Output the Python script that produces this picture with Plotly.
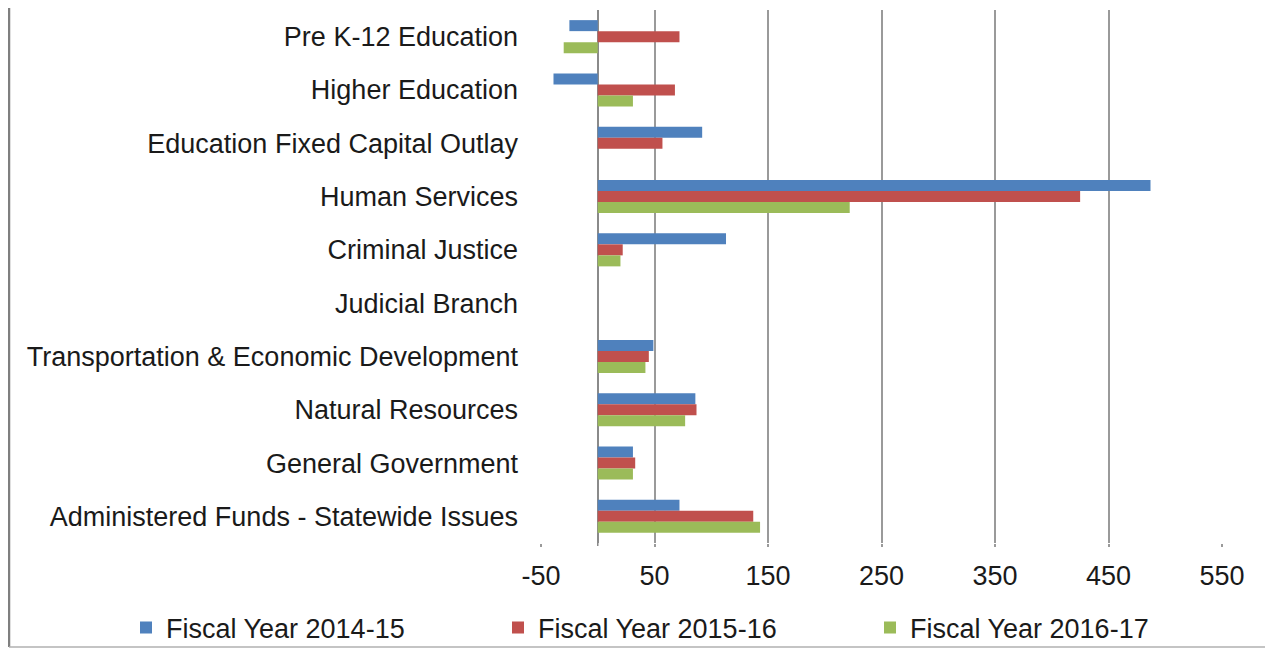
import plotly.graph_objects as go

categories = [
    "Pre K-12 Education",
    "Higher Education",
    "Education Fixed Capital Outlay",
    "Human Services",
    "Criminal Justice",
    "Judicial Branch",
    "Transportation & Economic Development",
    "Natural Resources",
    "General Government",
    "Administered Funds - Statewide Issues",
]
series_names = ["Fiscal Year 2014-15", "Fiscal Year 2015-16", "Fiscal Year 2016-17"]
fy_2014_15 = [-25, -39, 92, 487, 113, 0, 49, 86, 31, 72]
fy_2015_16 = [72, 68, 57, 425, 22, 0, 45, 87, 33, 137]
fy_2016_17 = [-30, 31, 0, 222, 20, 0, 42, 77, 31, 143]
colors = ["#4F81BD", "#C0504D", "#9BBB59"]
tick_values = [-50, 50, 150, 250, 350, 450, 550]

fig = go.Figure()
for name, vals, col in zip(series_names, [fy_2014_15, fy_2015_16, fy_2016_17], colors):
    fig.add_trace(go.Bar(
        y=categories, x=vals, name=name, orientation="h",
        marker=dict(color=col, line=dict(width=0)),
    ))

# page body has an 8px margin, so the figure is laid out 8px in from the window edge
OFF = 8
W, H = 1273 - OFF, 648 - OFF
L, R, T, B = 541 - OFF, W - (1222 - OFF), 10 - OFF, H - (543 - OFF)
PW, PH = W - L - R, H - T - B

fig.update_layout(
    width=W, height=H,
    margin=dict(l=L, r=R, t=T, b=B, autoexpand=False),
    paper_bgcolor="white", plot_bgcolor="white",
    barmode="group", bargap=0.38, bargroupgap=0,
    font=dict(family="Liberation Sans, Arial, sans-serif", size=27, color="#1a1a1a"),
    showlegend=True,
    legend=dict(
        orientation="h", xref="paper", yref="paper",
        x=(126 - OFF - L) / PW, xanchor="left",
        y=-(628 - 543) / PH, yanchor="middle",
        font=dict(size=27), entrywidth=327, entrywidthmode="pixels",
        itemwidth=30, traceorder="normal", bgcolor="rgba(0,0,0,0)",
    ),
)
fig.update_xaxes(
    range=[-50, 550], tickvals=tick_values, ticktext=[str(v) for v in tick_values],
    showgrid=True, gridcolor="#9a9a9a", gridwidth=1.5,
    zeroline=True, zerolinecolor="#8a8a8a", zerolinewidth=1.5,
    ticks="outside", ticklen=3, tickcolor="#9a9a9a", tickwidth=1.5,
    ticklabelstandoff=6, showline=False, fixedrange=True,
)
fig.update_yaxes(
    autorange="reversed", categoryorder="array", categoryarray=categories,
    showgrid=False, zeroline=False, showline=False, ticks="", ticklabelstandoff=22,
)
# outer frame (left, right, bottom edges)
fx0 = (1 - L) / PW
fx1 = (1271 - OFF - L) / PW
fy0 = -(647 - 543) / PH
fy1 = (H - B) / PH
fig.add_shape(type="line", xref="paper", yref="paper", x0=fx0, x1=fx0, y0=fy0, y1=fy1,
              line=dict(color="#7f7f7f", width=2.5))
fig.add_shape(type="line", xref="paper", yref="paper", x0=fx1, x1=fx1, y0=fy0, y1=fy1,
              line=dict(color="#c8c8c8", width=1.5))
fig.add_shape(type="line", xref="paper", yref="paper", x0=fx0, x1=fx1, y0=fy0, y1=fy0,
              line=dict(color="#b0b0b0", width=1.5))
# zero tick below axis
fig.add_shape(type="line", xref="x", yref="paper", x0=0, x1=0, y0=-3 / PH, y1=0,
              line=dict(color="#8a8a8a", width=1.5))

fig.write_html("out.html")
